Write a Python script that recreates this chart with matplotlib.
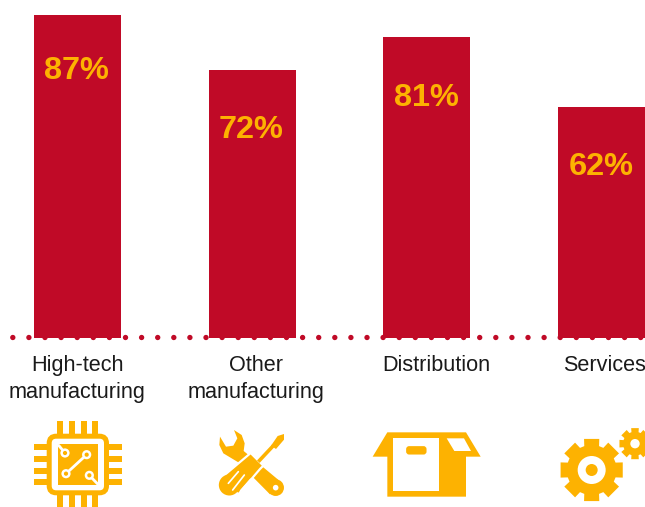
import numpy as np
import matplotlib
matplotlib.use("Agg")
import matplotlib.pyplot as plt
from matplotlib.patches import Polygon, Circle, FancyBboxPatch, Rectangle

categories = ["High-tech\nmanufacturing", "Other\nmanufacturing", "Distribution", "Services"]
values = [87, 72, 81, 62]
value_labels = ["87%", "72%", "81%", "62%"]
label_nudge = [0.0, 0.023, 0.057, 0.015]
value_nudge = [-0.006, -0.004, -0.003, -0.004]
value_drop = [15.2, 16.1, 16.4, 16.0]

RED = "#c00a27"
AMBER = "#fdb201"
INK = "#1a1a1a"

W, H = 645, 507
UNIT_X = 174.67
ORIGIN_X = 77.5
UNIT_Y = 3.71
BASE_Y = 337.5
PT = 72 / 100  # points per pixel at 100 dpi

plt.rcParams["lines.scale_dashes"] = False

fig = plt.figure(figsize=(W / 100, H / 100), dpi=100)
ax = fig.add_axes([0, 0, 1, 1])
ax.set_xlim(-ORIGIN_X / UNIT_X, (W - ORIGIN_X) / UNIT_X)
ax.set_ylim(-(H - BASE_Y) / UNIT_Y, BASE_Y / UNIT_Y)
ax.axis("off")

# Dotted baseline sits behind the bars
gap = 16.1 * PT
ax.axhline(0.1, color=RED, lw=5.4 * PT, dash_capstyle="round",
           linestyle=(gap - 12.3 * PT, (0.01, gap - 0.01)), zorder=1)

x = np.arange(len(categories))
ax.bar(x, values, width=87 / UNIT_X, color=RED, zorder=2)

for i, (v, lab) in enumerate(zip(values, value_labels)):
    ax.text(i + value_nudge[i], v - value_drop[i], lab, color=AMBER, ha="center",
            va="center", fontsize=23.4, fontweight="bold", family="Liberation Sans", zorder=3)

for i, cat in enumerate(categories):
    ax.text(i + label_nudge[i], -(355 - BASE_Y) / UNIT_Y, cat, color=INK, ha="center",
            va="top", fontsize=15.6, family="Liberation Sans", linespacing=1.38, zorder=3)

# Overlay in pixel units for the pictograms
ic = fig.add_axes([0, 0, 1, 1])
ic.set_xlim(0, W)
ic.set_ylim(H, 0)
ic.axis("off")
ic.patch.set_alpha(0)


def chip(px, py):
    return px / 3 + 30, py / 3 + 417


def tool(px, py):
    return px / 3 + 210, py / 3 + 425


def right(px, py):
    return px / 3 + 330, py / 3 + 320


def stroke(p0, p1, width, color=AMBER, cap="round", z=5):
    ic.plot([p0[0], p1[0]], [p0[1], p1[1]], color=color, lw=width * PT,
            solid_capstyle=cap, zorder=z)


def disc(c, r, color=AMBER, z=5):
    ic.add_patch(Circle(c, r, fc=color, ec="none", zorder=z))


def shape(points, mapper, color=AMBER, z=5, edge="none", edge_px=0):
    ic.add_patch(Polygon([mapper(*p) for p in points], fc=color, ec=edge,
                         lw=edge_px * PT, joinstyle="round", zorder=z))


# Chip
for px in (57.3, 69, 80.7, 92.3):
    ic.add_patch(Rectangle((px, 421), 6, 86, fc=AMBER, ec="none", zorder=4))
for py in (444.3, 456, 467.7, 479.3):
    ic.add_patch(Rectangle((34, py), 88, 6, fc=AMBER, ec="none", zorder=4))
ic.add_patch(FancyBboxPatch((49.2, 436.2), 57.3, 56.6, boxstyle="round,pad=0,rounding_size=7",
                            fc="white", ec=AMBER, lw=5 * PT, zorder=5))
ic.add_patch(Rectangle((58.3, 444.3), 39.4, 40.4, fc=AMBER, ec="none", zorder=6))
for a, b in (((86, 85), (105, 108)), ((108, 170), (170, 113)), ((178, 175), (203, 201))):
    stroke(chip(*a), chip(*b), 2.8, color="white", z=7)
for c in ((105, 108), (108, 170), (170, 113), (178, 175)):
    disc(chip(*c), 4.6, color="white", z=7)
    disc(chip(*c), 2.1, z=8)

# Wrench crossed with screwdriver
shape([(72, 15), (95, 30), (104, 55), (101, 78), (214, 172), (180, 208), (85, 112), (65, 100),
       (40, 85), (28, 60), (30, 35), (48, 65), (70, 62), (82, 40)], tool)
disc(tool(197, 188), 8.3)
disc(tool(197, 188), 2.8, color="white", z=6)
disc(tool(58, 180), 12, color="white", z=6)
shape([(115, 90), (122, 84), (160, 122), (150, 132), (85, 208), (32, 160)], tool, z=7,
      edge="white", edge_px=2.2)
disc(tool(58, 180), 10.5, z=8)
stroke(tool(145, 110), tool(190, 62), 3.6, cap="butt", z=7)
shape([(183, 62), (203, 33), (222, 27), (222, 44), (198, 72)], tool, z=7)
for a, b in (((85, 140), (55, 175)), ((103, 150), (68, 195)), ((122, 163), (92, 197))):
    stroke(tool(*a), tool(*b), 1.7, color="white", z=9)

# Open box
shape([(172, 337), (408, 337), (452, 410), (408, 410), (408, 530), (172, 530), (172, 410), (128, 410)],
      right, z=4)
ic.add_patch(Rectangle(right(190, 355), 138 / 3, 158 / 3, fc="white", ec="none", zorder=5))
ic.add_patch(FancyBboxPatch(right(232, 382), 54 / 3, 18 / 3, boxstyle="round,pad=1.2,rounding_size=3",
                            fc=AMBER, ec="none", zorder=6))
shape([(350, 355), (402, 355), (423, 393), (373, 393)], right, color="white")


# Gears
def gear_outline(center, r_out, r_root, teeth, half_top, half_base):
    pts = []
    for k in range(teeth):
        t = 2 * np.pi * k / teeth + np.pi / 2
        for r, d in ((r_root, -half_base), (r_out, -half_top), (r_out, half_top), (r_root, half_base)):
            a = t + d
            pts.append((center[0] + r * np.cos(a), center[1] + r * np.sin(a)))
    return pts


big = right(785, 450)
ic.add_patch(Polygon(gear_outline(big, 32, 25, 8, 0.24, 0.3), fc=AMBER, ec="none", zorder=4))
disc(big, 14, color="white")
disc(big, 6, z=6)
small = right(915, 371)
ic.add_patch(Polygon(gear_outline(small, 16, 12, 8, 0.24, 0.3), fc=AMBER, ec="none", zorder=4))
disc(small, 4.7, color="white")

fig.savefig("out.png", dpi=100)
